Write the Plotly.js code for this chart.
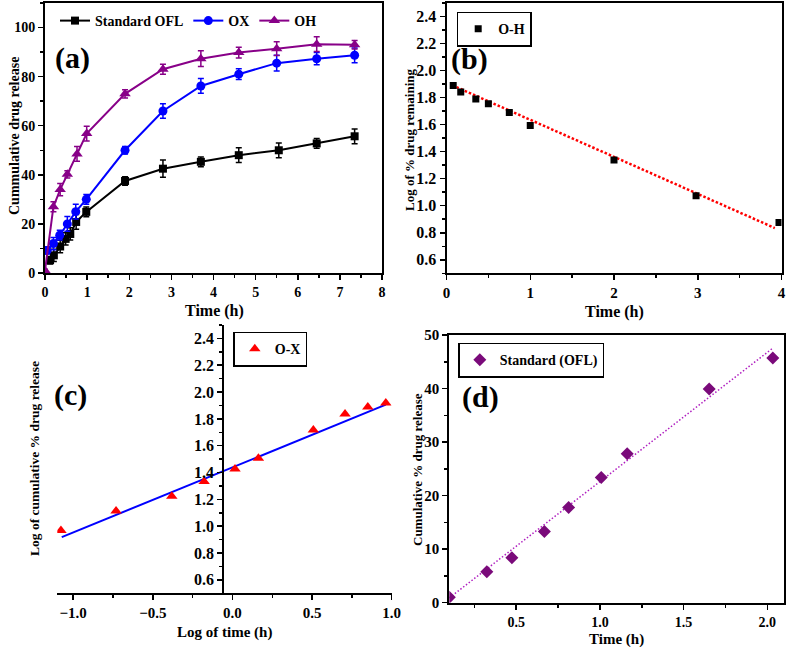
<!DOCTYPE html>
<html>
<head>
<meta charset="utf-8">
<script src="https://cdn.plot.ly/plotly-3.0.1.min.js"></script>
<style>
  html, body { margin: 0; padding: 0; background: #fff; }
  #fig { width: 787px; height: 647px; }
</style>
</head>
<body>
<div id="fig"></div>
<script>
// ---- (a) cumulative release profiles ----
const tOFL = [0.12, 0.21, 0.36, 0.49, 0.6, 0.74, 0.98, 1.9, 2.8, 3.7, 4.6, 5.55, 6.45, 7.35];
const yOFL = [5.2, 7.2, 10.8, 13.9, 15.9, 20.8, 24.9, 37.5, 42.5, 45.3, 48.0, 50.0, 52.8, 55.7];
const eOFL = [1.5, 2.5, 2.5, 2.5, 2.5, 3.0, 2.0, 1.7, 3.5, 2.0, 3.0, 3.0, 2.0, 3.0];

const tOX = [0.05, 0.2, 0.35, 0.53, 0.73, 0.98, 1.9, 2.8, 3.7, 4.6, 5.5, 6.45, 7.35];
const yOX = [9.2, 12.0, 15.4, 20.0, 25.0, 30.0, 50.0, 66.0, 76.2, 81.0, 85.5, 87.3, 88.7];
const eOX = [1.5, 2.5, 2.0, 3.0, 3.0, 2.0, 1.5, 3.0, 3.0, 2.2, 3.2, 2.5, 3.0];

const tOH = [0, 0.2, 0.36, 0.53, 0.76, 0.99, 1.9, 2.8, 3.7, 4.6, 5.5, 6.45, 7.35];
const yOH = [1.0, 27.0, 34.0, 40.2, 48.5, 56.8, 73.0, 83.0, 87.3, 89.8, 91.4, 93.2, 93.0];
const eOH = [0.5, 2.0, 2.5, 1.5, 3.0, 3.0, 1.7, 2.0, 3.2, 2.2, 2.8, 3.0, 1.7];

// ---- (b) first-order plot, O-H ----
const tB = [0.08, 0.17, 0.35, 0.5, 0.75, 1.0, 2.0, 2.98, 3.97];
const logRemB = [1.889, 1.842, 1.79, 1.755, 1.69, 1.593, 1.338, 1.073, 0.875];
const fitBx = [0.07, 3.92];
const fitBy = [1.891, 0.835];

// ---- (c) Korsmeyer-Peppas plot, O-X ----
const logTC = [-1.077, -0.731, -0.381, -0.178, 0.016, 0.163, 0.508, 0.707, 0.85, 0.963];
const logRelC = [0.969, 1.114, 1.224, 1.334, 1.426, 1.506, 1.718, 1.836, 1.888, 1.918];
const fitCx = [-1.072, 0.963];
const fitCy = [0.919, 1.906];

// ---- (d) zero-order plot, Standard (OFL) ----
const tD = [0.1, 0.324, 0.474, 0.668, 0.813, 1.008, 1.163, 1.653, 2.033];
const relD = [1.0, 5.8, 8.4, 13.3, 17.8, 23.4, 27.8, 39.9, 45.7];
const fitDx = [0.1, 2.033];
const fitDy = [0.9, 47.55];

const logTicks = [0.6, 0.8, 1.0, 1.2, 1.4, 1.6, 1.8, 2.0, 2.2, 2.4];
const logTickText = logTicks.map(v => v.toFixed(1));

const W = 787, H = 647;
const px = v => v / W;
const py = v => 1 - v / H;

const SERIF = 'Liberation Serif, Times New Roman, serif';
const tf = s => ({ family: SERIF, size: s, color: '#000', weight: 'bold' });
const lblFont = tf(14);

function axis(extra) {
  return Object.assign({
    showline: true, linecolor: '#000', linewidth: 2, mirror: true,
    ticks: 'outside', ticklen: 5, tickwidth: 1.5, tickcolor: '#000',
    showgrid: false, zeroline: false, tickfont: tf(14), fixedrange: true
  }, extra);
}
function minor(dt) {
  return { dtick: dt, ticks: 'outside', ticklen: 3, tickwidth: 1.5, tickcolor: '#000', showgrid: false };
}

const errStyle = (arr, col) => ({ type: 'data', array: arr, visible: true, color: col, thickness: 1.5, width: 3 });

const traces = [
  { x: tOFL, y: yOFL, name: 'Standard OFL', type: 'scatter', mode: 'lines+markers',
    line: { color: '#000', width: 2 }, marker: { symbol: 'square', size: 8, color: '#000' },
    error_y: errStyle(eOFL, '#000'), xaxis: 'x', yaxis: 'y', legend: 'legend' },
  { x: tOX, y: yOX, name: 'OX', type: 'scatter', mode: 'lines+markers',
    line: { color: '#0000ff', width: 2 }, marker: { symbol: 'circle', size: 9, color: '#0000ff' },
    error_y: errStyle(eOX, '#0000ff'), xaxis: 'x', yaxis: 'y', legend: 'legend' },
  { x: tOH, y: yOH, name: 'OH', type: 'scatter', mode: 'lines+markers',
    line: { color: '#880088', width: 2 }, marker: { symbol: 'triangle-up', size: 10, color: '#880088' },
    error_y: errStyle(eOH, '#880088'), xaxis: 'x', yaxis: 'y', legend: 'legend' },

  { x: fitBx, y: fitBy, type: 'scatter', mode: 'lines', showlegend: false,
    line: { color: '#ff0000', width: 2.5, dash: '2.5px,2px' }, xaxis: 'x2', yaxis: 'y2' },
  { x: tB, y: logRemB, name: 'O-H', type: 'scatter', mode: 'markers',
    marker: { symbol: 'square', size: 7, color: '#000' }, xaxis: 'x2', yaxis: 'y2', legend: 'legend2' },

  { x: fitCx, y: fitCy, type: 'scatter', mode: 'lines', showlegend: false,
    line: { color: '#0000ff', width: 2 }, xaxis: 'x3', yaxis: 'y3' },
  { x: logTC, y: logRelC, name: 'O-X', type: 'scatter', mode: 'markers',
    marker: { symbol: 'triangle-up', size: 10, color: '#ff0000' }, xaxis: 'x3', yaxis: 'y3', legend: 'legend3' },

  { x: fitDx, y: fitDy, type: 'scatter', mode: 'lines', showlegend: false,
    line: { color: '#b020c0', width: 1.5, dash: '1.5px,2px' }, xaxis: 'x4', yaxis: 'y4' },
  { x: tD, y: relD, name: 'Standard (OFL)', type: 'scatter', mode: 'markers',
    marker: { symbol: 'diamond', size: 10, color: '#7a0a7a' }, xaxis: 'x4', yaxis: 'y4', legend: 'legend4' }
];

const ann = (x, y, text, size, angle) => ({
  xref: 'paper', yref: 'paper', x: px(x), y: py(y), text: text, showarrow: false,
  xanchor: 'center', yanchor: 'middle', textangle: angle || 0,
  font: tf(size)
});

const layout = {
  width: W, height: H,
  margin: { l: 0, r: 0, t: 0, b: 0 },
  paper_bgcolor: '#fff', plot_bgcolor: '#fff',
  font: { family: SERIF, color: '#000' },

  xaxis: axis({ domain: [px(45), px(382)], range: [0, 8], dtick: 1, tick0: 0, minor: minor(0.5), anchor: 'y' }),
  yaxis: axis({ domain: [py(273), py(3)], range: [0, 110], tickvals: [0, 20, 40, 60, 80, 100], minor: minor(10), anchor: 'x' }),

  xaxis2: axis({ domain: [px(446.5), px(781.5)], range: [0, 4], dtick: 1, tick0: 0, minor: minor(0.5),
                 tickfont: tf(15), anchor: 'y2' }),
  yaxis2: axis({ domain: [py(273.3), py(3)], range: [0.5, 2.5], tickvals: logTicks, ticktext: logTickText,
                 minor: minor(0.1), tickfont: tf(16), anchor: 'x2' }),

  xaxis3: axis({ domain: [px(57.3), px(391.7)], range: [-1.1, 1.0], dtick: 0.5, tick0: 0, tickformat: '.1f',
                 minor: minor(0.25), mirror: false, tickfont: tf(15), anchor: 'y3' }),
  yaxis3: axis({ domain: [py(593.3), py(325)], range: [0.5, 2.5], tickvals: logTicks, ticktext: logTickText,
                 minor: minor(0.1), tickfont: tf(16), mirror: false, anchor: 'free', position: px(223.3) }),

  xaxis4: axis({ domain: [px(449.3), px(784)], range: [0.1, 2.1], tickvals: [0.5, 1.0, 1.5, 2.0], ticktext: ['0.5', '1.0', '1.5', '2.0'],
                 minor: { tickvals: [0.25, 0.75, 1.25, 1.75], ticks: 'outside', ticklen: 3, tickwidth: 1.5, tickcolor: '#000' },
                 tickfont: tf(14), anchor: 'y4' }),
  yaxis4: axis({ domain: [py(602.7), py(335)], range: [0, 50], dtick: 10, tick0: 0, minor: minor(5),
                 tickfont: tf(15), anchor: 'x4' }),

  legend: { x: px(55), y: py(5), xanchor: 'left', yanchor: 'top', orientation: 'h',
            bgcolor: 'rgba(0,0,0,0)', borderwidth: 0, font: lblFont },
  legend2: { x: px(456.7), y: py(11.7), xanchor: 'left', yanchor: 'top', bgcolor: '#fff',
             bordercolor: '#000', borderwidth: 1.5, font: lblFont },
  legend3: { x: px(233.3), y: py(331.7), xanchor: 'left', yanchor: 'top', bgcolor: '#fff',
             bordercolor: '#000', borderwidth: 1.5, font: lblFont },
  legend4: { x: px(458.3), y: py(342.7), xanchor: 'left', yanchor: 'top', bgcolor: '#fff',
             bordercolor: '#000', borderwidth: 1.5, font: lblFont },

  annotations: [
    ann(72, 58, '(a)', 30), ann(470, 59, '(b)', 30), ann(70, 395, '(c)', 30), ann(480, 397, '(d)', 30),
    ann(14, 136, 'Cummulative drug release', 14, -90),
    ann(214, 311, 'Time (h)', 16),
    ann(410, 140, 'Log of % drug remaining', 13, -90),
    ann(614, 312, 'Time (h)', 16),
    ann(34, 459, 'Log of cumulative % drug release', 13.5, -90),
    ann(224, 632, 'Log of time (h)', 15),
    ann(418, 469, 'Cumulative % drug release', 13, -90),
    ann(616, 639, 'Time (h)', 15)
  ]
};

Plotly.newPlot('fig', traces, layout, { staticPlot: true, displayModeBar: false });
</script>
</body>
</html>
